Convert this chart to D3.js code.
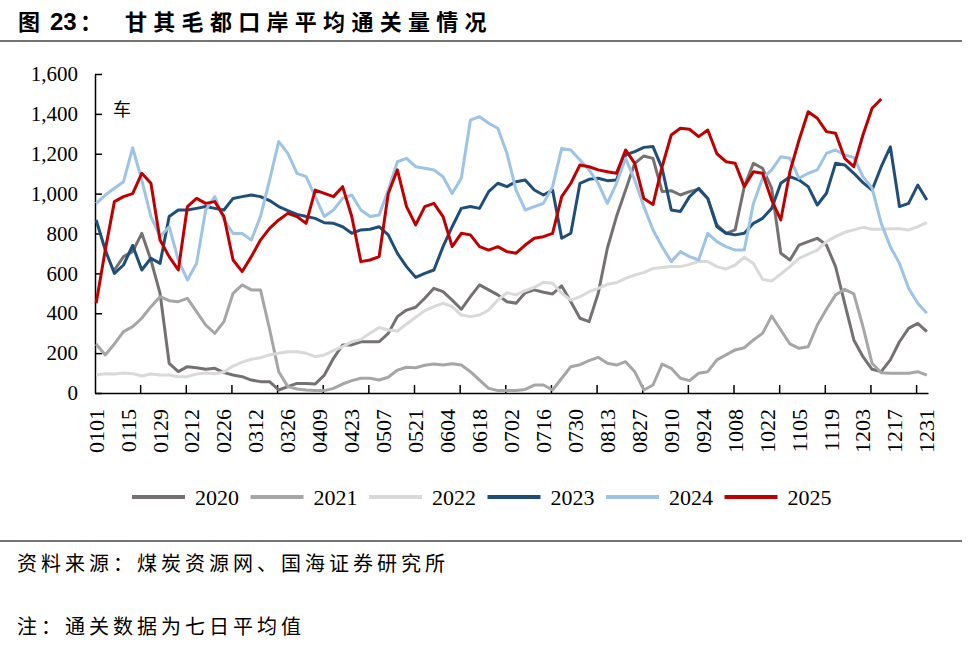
<!DOCTYPE html>
<html><head><meta charset="utf-8">
<script src="https://cdn.jsdelivr.net/npm/d3@7"></script>
<style>body{margin:0;background:#fff}svg{display:block}</style>
</head><body>
<svg id="c" width="978" height="650"></svg>
<script>
// categories: every day of a (non-leap) year as MMDD
const categories = d3.timeDay.range(new Date(2021,0,1), new Date(2022,0,1)).map(d3.timeFormat("%m%d"));
const labelDates = categories.filter((d,i)=>i%14===0);
// values every 4th day
const sampleDates = categories.filter((d,i)=>i%4===0);
const yTicks = [0,200,400,600,800,1000,1200,1400,1600];
const seriesNames = ["2020","2021","2022","2023","2024","2025"];
const seriesColors = ["#767171","#A6A6A6","#D9D9D9","#1F4E79","#9DC3E6","#C00000"];

const v2020 = [null,null,617,684,709,801,667,500,149,107,132,127,119,124,102,90,
 82,65,57,57,15,32,48,48,45,90,174,241,241,257,257,
 257,299,383,416,430,475,525,508,466,420,483,542,517,492,458,
 450,503,517,505,497,537,458,375,358,500,726,885,1018,1152,1189,1177,
 1010,1015,993,1010,1022,976,843,801,818,1035,1152,1127,1027,701,667,
 742,759,776,742,634,450,266,182,119,107,166,257,324,349,308];
const v2021 = [246,191,246,308,333,375,433,483,463,458,475,408,341,299,358,500,
 542,517,517,320,107,32,20,15,12,12,23,45,62,74,74,
 65,79,115,129,127,139,145,140,147,140,107,65,23,12,12,
 12,18,40,40,15,74,132,142,162,179,149,140,157,107,15,40,
 145,124,74,62,99,107,166,191,216,227,266,299,386,316,246,
 224,232,341,420,492,520,497,333,149,102,99,99,99,107,90];
const v2022 = [90,97,95,100,97,85,95,90,90,82,82,95,100,97,105,135,
 155,169,177,191,199,207,207,199,182,191,212,232,257,269,300,
 328,316,311,346,380,413,433,450,433,391,383,391,416,466,503,
 492,513,530,555,550,500,466,483,508,525,545,553,575,592,604,625,
 630,634,634,645,659,659,634,622,642,681,650,570,562,597,634,
 675,697,717,759,784,806,818,831,821,821,824,824,818,834,854];
const v2023 = [868,717,600,642,740,617,676,650,885,918,918,926,935,926,918,976,
 985,993,985,965,935,915,896,885,876,854,851,834,801,818,821,
 834,793,700,634,580,600,617,734,834,926,935,926,1010,1052,1035,
 1060,1068,1018,993,1018,776,801,1052,1072,1077,1065,1068,1194,1211,1232,1236,
 1127,918,910,985,1027,976,834,801,793,801,851,876,926,1052,1085,
 1068,1035,943,1002,1152,1144,1102,1055,1018,1135,1235,935,951,1043,968];
const v2024 = [950,993,1027,1060,1230,1068,885,784,834,667,567,650,918,985,868,800,
 800,767,885,1068,1261,1202,1102,1085,985,885,918,976,993,918,885,
 893,1018,1160,1177,1135,1127,1119,1085,1001,1077,1369,1386,1353,1328,1202,
 1018,918,935,951,1035,1227,1219,1169,1119,1052,951,1052,1177,1068,935,818,
 734,659,709,684,667,801,759,734,717,717,951,1077,1119,1185,1177,
 1077,1102,1119,1202,1219,1194,1182,1085,1027,851,734,650,525,450,400];
const v2025 = [450,717,960,985,1000,1102,1052,767,684,617,935,976,951,960,885,667,
 609,684,767,826,868,901,885,851,1018,1001,985,1035,885,659,667,
 684,1001,1119,935,843,935,951,885,734,801,793,734,717,734,709,
 701,742,776,784,801,985,1052,1144,1135,1119,1110,1102,1219,1152,975,945,
 1135,1294,1328,1323,1286,1319,1200,1160,1152,1035,1110,1102,968,868,1110,
 1269,1411,1378,1311,1303,1177,1135,1294,1428,1475,null,null,null,null,null];
const seriesValues = [v2020,v2021,v2022,v2023,v2024,v2025];

const svg = d3.select("#c");
const serif = "'Liberation Serif','Times New Roman',serif";
const cjk = "'Noto Sans CJK SC',sans-serif";

// title
svg.append("text").attr("x",18).attr("y",30).attr("font-family",cjk).attr("font-weight","bold").attr("font-size",22).text("图");
svg.append("text").attr("x",50).attr("y",30).attr("font-family","'Liberation Sans',Arial,sans-serif").attr("font-weight","bold").attr("font-size",24).text("23");
svg.append("text").attr("x",80).attr("y",30).attr("font-family",cjk).attr("font-weight","bold").attr("font-size",22).text("：");
svg.append("text").attr("x",125).attr("y",30).attr("font-family",cjk).attr("font-weight","bold").attr("font-size",22).attr("letter-spacing",6.3).text("甘其毛都口岸平均通关量情况");
svg.append("line").attr("x1",0).attr("x2",962).attr("y1",41).attr("y2",41).attr("stroke","#444").attr("stroke-width",1.5);
svg.append("line").attr("x1",0).attr("x2",962).attr("y1",541).attr("y2",541).attr("stroke","#444").attr("stroke-width",1.5);

const x = d3.scaleBand().domain(categories).range([95,928]);
const cx = d => x(d) + x.bandwidth()/2;
const y = d3.scaleLinear().domain([0,1600]).range([393,74]);

// y axis
const ya = svg.append("g").attr("transform","translate(95,0)")
  .call(d3.axisLeft(y).tickValues(yTicks).tickFormat(d3.format(",")).tickSize(-7).tickSizeOuter(0).tickPadding(17));
ya.selectAll("text").attr("font-family",serif).attr("font-size",21).attr("fill","#000");
ya.selectAll("line,path").attr("stroke","#000").attr("stroke-width",1.5);

// x axis labels
const xa = svg.append("g").attr("transform","translate(0,393)")
  .call(d3.axisBottom(x).tickValues(labelDates).tickSize(0).tickSizeOuter(0));
xa.select("path").attr("stroke","#000").attr("stroke-width",1.5);
xa.selectAll(".tick text").attr("font-family",serif).attr("font-size",22).attr("fill","#000")
  .attr("transform","translate(0,16) rotate(-90)").attr("text-anchor","end").attr("dy",null).attr("y",0).attr("x",0)
  .attr("dominant-baseline","central");
// x tick marks every 20 categories
svg.append("g").selectAll("line").data(categories.filter((d,i)=>i>0 && i%20===0)).join("line")
  .attr("x1",d=>x(d)).attr("x2",d=>x(d)).attr("y1",393).attr("y2",385).attr("stroke","#000").attr("stroke-width",1.5);

svg.append("text").attr("x",113).attr("y",116).attr("font-family",cjk).attr("font-size",18).text("车");

// series
const line = d3.line().defined(d=>d.v!=null).x(d=>cx(d.t)).y(d=>y(d.v));
seriesValues.forEach((vals,k)=>{
  const pts = sampleDates.map((t,i)=>({t, v: vals[i]}));
  svg.append("path").datum(pts).attr("d",line).attr("fill","none")
    .attr("stroke",seriesColors[k]).attr("stroke-width",3).attr("stroke-linejoin","round");
});

// legend
const lg = svg.append("g").selectAll("g").data(seriesNames).join("g")
  .attr("transform",(d,i)=>`translate(${132+i*118.5},497)`);
lg.append("line").attr("x1",0).attr("x2",53).attr("stroke",(d,i)=>seriesColors[i]).attr("stroke-width",4);
lg.append("text").attr("x",63).attr("dominant-baseline","central").attr("font-family",serif).attr("font-size",22).text(d=>d);

// footer
svg.append("text").attr("x",17).attr("y",571).attr("font-family",cjk).attr("font-size",20).attr("letter-spacing",4).text("资料来源：煤炭资源网、国海证券研究所");
svg.append("text").attr("x",17).attr("y",634).attr("font-family",cjk).attr("font-size",20).attr("letter-spacing",4).text("注：通关数据为七日平均值");
</script>
</body></html>
